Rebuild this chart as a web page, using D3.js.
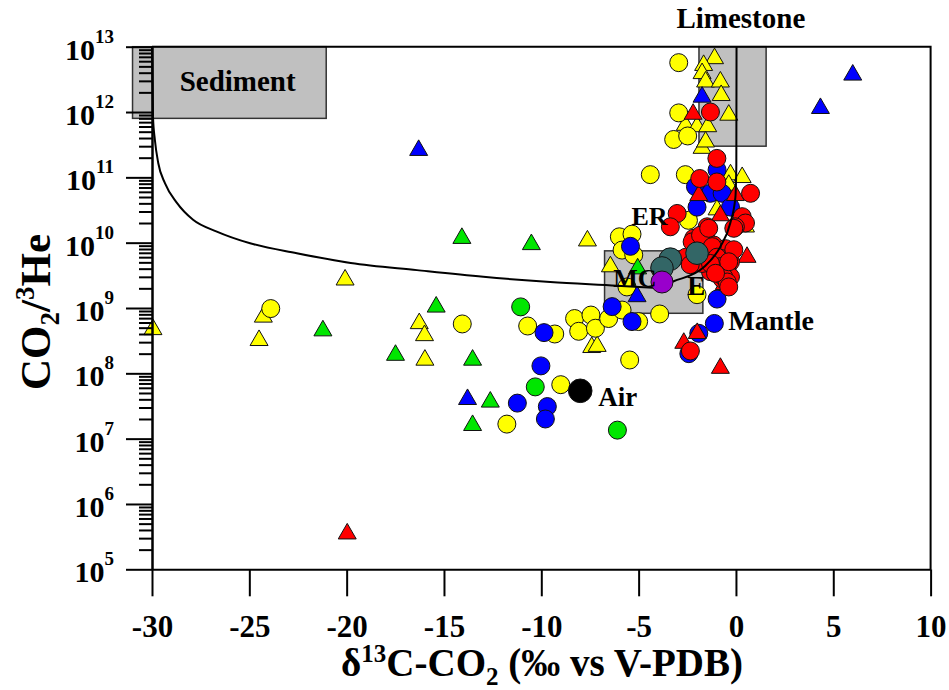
<!DOCTYPE html>
<html>
<head>
<meta charset="utf-8">
<script src="https://cdn.jsdelivr.net/npm/d3@7"></script>
<style>
  body { margin: 0; background: #fff; }
  text { font-family: "Liberation Serif", "Times New Roman", serif; font-weight: bold; fill: #000; }
</style>
</head>
<body>
<svg id="chart" width="949" height="690"></svg>
<script>
// ---- data: [d13C, CO2/3He] ----
var yellowTriangles = [
  [-29.95, 4.7e8], [-24.28, 7.3e8], [-24.5, 3.2e8], [-20.08, 2.7e9], [-16.27, 5.8e8],
  [-16.0, 3.8e8], [-15.98, 1.6e8], [-7.63, 1.07e10], [-7.41, 2.5e8], [-7.13, 2.6e8],
  [-6.45, 4.3e9], [-1.1, 6.6e12], [-1.66, 5.2e12], [-1.74, 3.9e12], [-1.56, 2.9e12],
  [-0.8, 2.9e12], [-0.76, 1.8e12], [-0.37, 9e11], [-2.6, 6.3e11], [-2.0, 6e11],
  [-1.45, 6e11], [-1.74, 2.8e11], [-1.56, 3.5e11], [-0.28, 1.1e11], [0.32, 1e11],
  [-0.37, 7.6e10], [0.49, 1.75e10], [-0.97, 3.2e10]
];
var yellowCircles = [
  [-23.9, 9.8e8], [-14.06, 5.7e8], [-10.7, 5.3e8], [-9.31, 4e8], [-8.29, 6.9e8],
  [-7.45, 7.8e8], [-8.08, 4.4e8], [-7.22, 4.9e8], [-6.54, 6.9e8], [-5.85, 9.3e8],
  [-9.0, 6.7e7], [-11.77, 1.67e7], [-5.46, 1.6e8], [-5.0, 6.2e8], [-3.92, 8.1e8],
  [-2.0, 1.6e9], [-5.6, 2.1e9], [-5.99, 1.23e10], [-5.34, 1.35e10], [-5.85, 7.7e9],
  [-5.25, 6.5e9], [-4.4, 1.1e11], [-2.6, 1.1e11], [-2.94, 5.7e12], [-2.94, 9.7e11],
  [-3.2, 3.8e11], [-2.48, 4.3e11], [-2.44, 2.2e10]
];
var greenTriangles = [
  [-14.08, 1.17e10], [-10.51, 9.4e9], [-15.4, 1.04e9], [-21.22, 4.5e8], [-17.49, 1.9e8],
  [-13.53, 1.6e8], [-12.62, 3.65e7], [-13.53, 1.6e7], [-5.05, 4e9]
];
var greenCircles = [[-11.06, 1.04e9], [-10.31, 6.2e7], [-6.09, 1.35e7]];
var blueTriangles = [
  [-16.3, 2.6e11], [-13.79, 4e7], [-5.08, 1.5e9], [-1.74, 1.7e12], [4.34, 1.14e12], [6.0, 3.7e12]
];
var blueCircles = [
  [-9.86, 4.2e8], [-10.02, 1.3e8], [-11.23, 3.5e7], [-9.69, 3.1e7], [-9.79, 2e7],
  [-6.36, 1.05e9], [-5.34, 6.2e8], [-5.42, 8.8e9], [-0.97, 1.37e9], [-1.11, 5.8e8],
  [-1.91, 4.1e8], [-2.42, 2e8], [-0.97, 1.3e11], [-2.08, 7.2e10], [-1.31, 5.7e10],
  [-0.71, 5.7e10], [-2.0, 3.5e10], [-0.28, 3.5e10]
];
var redTriangles = [
  [-19.97, 3.5e5], [-2.2, 9.3e11], [-1.91, 5.3e10], [-0.03, 5.3e10], [-0.8, 2.6e10],
  [0.57, 6e9], [-0.3, 6.5e9], [-1.99, 4.1e8], [-2.68, 2.9e8], [-0.8, 1.2e8], [-0.6, 2.3e9]
];
var redCircles = [
  [-1.31, 1e12], [-0.98, 1.95e11], [-1.86, 9.6e10], [-0.98, 8.5e10], [0.75, 5.7e10],
  [-3.02, 2.8e10], [-3.37, 1.75e10], [0.32, 2.5e10], [0.49, 2e10], [-0.03, 1.75e10],
  [-1.48, 1.75e10], [-2.17, 1.17e10], [-1.56, 1.2e10], [-1.14, 9.2e9], [-0.54, 8.1e9],
  [-0.71, 5.7e9], [-0.28, 5.1e9], [-0.98, 4.3e9], [-0.46, 3.8e9], [-1.31, 3.6e9],
  [-0.71, 2.8e9], [-0.28, 3e9], [-2.57, 6e9], [-1.74, 4.8e9], [-2.34, 2.2e8],
  [-2.25, 1.03e10], [-1.82, 1.3e10], [-1.4, 1.66e10], [-1.22, 8.7e9], [-0.97, 6e9],
  [-0.8, 4.3e9], [-0.63, 3e9], [-0.45, 2.5e9], [-0.11, 7.8e9], [-0.37, 5.1e9],
  [-1.31, 4.8e9], [-1.05, 3.4e9], [-0.37, 2.1e9], [-0.11, 1.66e10], [-2.35, 4.6e9]
];
var endMembers = [[-3.37, 5.6e9], [-3.8, 4.1e9], [-2.0, 6.9e9]];
var purplePoint = [[-3.8, 2.5e9]];
var airPoint = [[-8.0, 5.4e7]];

// mixing curves
var sedimentCurve = [
  [-30, 1e13], [-29.95, 8.5e11], [-29.85, 3.7e11], [-29.68, 1.66e11], [-29.33, 8.1e10],
  [-28.73, 4.1e10], [-27.89, 2.24e10], [-26.67, 1.48e10], [-24.96, 9.8e9], [-22.56, 6.9e9],
  [-19.79, 4.9e9], [-16.39, 3.8e9], [-12.98, 3.0e9], [-9.54, 2.5e9], [-6.11, 2.2e9], [-3.8, 2.0e9]
];
var limestoneCurve = [
  [-3.8, 2.2e9], [-3.2, 2.57e9], [-1.66, 4.2e9], [-0.8, 8.7e9], [-0.29, 2.0e10],
  [-0.03, 4.9e10], [0.02, 1.55e11], [0.03, 1e13]
];

// end-member boxes
var boxes = [
  {name: 'sediment', x: [-31, -21.05], y: [8e11, 1e13]},
  {name: 'limestone', x: [-1.9, 1.55], y: [3e11, 1e13]},
  {name: 'morb', x: [-6.75, -1.7], y: [8.3e8, 7.5e9]}
];

// text labels [text, x, y, anchor, size]
var labels = [
  ['Sediment', -25.6, 2.1e12, 'middle', 29],
  ['Limestone', 0.25, 1.9e13, 'middle', 29],
  ['ER', -5.37, 1.85e10, 'start', 26],
  ['MC', -6.3, 2.1e9, 'start', 26],
  ['E', -2.5, 1.58e9, 'start', 27],
  ['Mantle', -0.39, 4.6e8, 'start', 28],
  ['Air', -7.07, 3.15e7, 'start', 27]
];

var xTicks = [-30, -25, -20, -15, -10, -5, 0, 5, 10];
var yPowers = [5, 6, 7, 8, 9, 10, 11, 12, 13];

// ---- drawing ----
var svg = d3.select('#chart');
var xScale = d3.scaleLinear().domain([-30, 10]).range([152, 930.6]);
var yScale = d3.scaleLog().domain([1e5, 1e13]).range([569.3, 46.7]);

// boxes
svg.append('g').selectAll('rect').data(boxes).enter().append('rect')
  .attr('x', function (d) { return xScale(d.x[0]); })
  .attr('y', function (d) { return yScale(d.y[1]); })
  .attr('width', function (d) { return xScale(d.x[1]) - xScale(d.x[0]); })
  .attr('height', function (d) { return yScale(d.y[0]) - yScale(d.y[1]); })
  .attr('fill', '#c0c0c0').attr('stroke', '#333').attr('stroke-width', 1.5);

// draw one series of markers
function drawSeries(data, shape, color, r) {
  var g = svg.append('g');
  if (shape == 'circle') {
    g.selectAll('circle').data(data).enter().append('circle')
      .attr('cx', function (d) { return xScale(d[0]); })
      .attr('cy', function (d) { return yScale(d[1]); })
      .attr('r', r).attr('fill', color).attr('stroke', '#111').attr('stroke-width', 1);
  } else {
    var sym = d3.symbol().type(d3.symbolTriangle).size(r);
    g.selectAll('path').data(data).enter().append('path')
      .attr('d', sym)
      .attr('transform', function (d) { return 'translate(' + xScale(d[0]) + ',' + yScale(d[1]) + ')'; })
      .attr('fill', color).attr('stroke', '#111').attr('stroke-width', 1);
  }
}

drawSeries(yellowTriangles, 'tri', '#ffff00', 140);
drawSeries(yellowCircles, 'circle', '#ffff00', 9);
drawSeries(greenTriangles, 'tri', '#00e600', 140);
drawSeries(greenCircles, 'circle', '#00e600', 9);
drawSeries(blueTriangles, 'tri', '#0000ff', 140);
drawSeries(blueCircles, 'circle', '#0000ff', 9);
drawSeries(redTriangles, 'tri', '#ff0000', 140);
drawSeries(redCircles, 'circle', '#ff0000', 9);

// mixing curves
var line = d3.line()
  .x(function (d) { return xScale(d[0]); })
  .y(function (d) { return yScale(d[1]); })
  .curve(d3.curveMonotoneX);
[sedimentCurve, limestoneCurve].forEach(function (c) {
  svg.append('path').datum(c).attr('d', line)
    .attr('fill', 'none').attr('stroke', '#000').attr('stroke-width', 2);
});

drawSeries(endMembers, 'circle', '#336666', 11.3);
drawSeries(purplePoint, 'circle', '#9900cc', 11);
drawSeries(airPoint, 'circle', '#000', 11.8);

// frame (top + right)
svg.append('path')
  .attr('d', 'M' + xScale(-30) + ',' + yScale(1e13) + 'H' + xScale(10) + 'V' + yScale(1e5))
  .attr('fill', 'none').attr('stroke', '#000').attr('stroke-width', 2);

// y axis, majors + minors
var minors = [];
yPowers.slice(0, -1).forEach(function (p) {
  for (var k = 2; k < 10; k++) minors.push(k * Math.pow(10, p));
});
var yAxisG = svg.append('g').attr('transform', 'translate(' + xScale(-30) + ',0)');
yAxisG.append('g').call(d3.axisLeft(yScale).tickValues(minors).tickSize(13).tickSizeOuter(0).tickFormat(''));
yAxisG.append('g').call(d3.axisLeft(yScale).tickValues(yPowers.map(function (p) { return Math.pow(10, p); }))
  .tickSize(26).tickSizeOuter(0).tickFormat(''));
yAxisG.selectAll('path, line').attr('stroke', '#000').attr('stroke-width', 2);

// y labels 10^n
var yLab = svg.append('g').selectAll('text').data(yPowers).enter().append('text')
  .attr('x', 114).attr('y', function (p) { return yScale(Math.pow(10, p)) + 13; })
  .attr('text-anchor', 'end').style('font-size', '30px');
yLab.append('tspan').text('10');
yLab.append('tspan').attr('dy', -17).style('font-size', '19px').text(function (p) { return p; });

// x axis
var xAxisG = svg.append('g').attr('transform', 'translate(0,' + yScale(1e5) + ')')
  .call(d3.axisBottom(xScale).tickValues(xTicks).tickSize(27).tickSizeOuter(0).tickPadding(19)
    .tickFormat(function (d) { return String(d); }));
xAxisG.selectAll('path, line').attr('stroke', '#000').attr('stroke-width', 2);
xAxisG.selectAll('text').style('font-size', '31px')
  .style('font-family', '"Liberation Serif", serif').style('font-weight', 'bold').attr('fill', '#000');

// annotations
svg.append('g').selectAll('text').data(labels).enter().append('text')
  .attr('x', function (d) { return xScale(d[1]); })
  .attr('y', function (d) { return yScale(d[2]); })
  .attr('text-anchor', function (d) { return d[3]; })
  .style('font-size', function (d) { return d[4] + 'px'; })
  .text(function (d) { return d[0]; });

// axis titles
var xt = svg.append('text').attr('x', 542).attr('y', 676).attr('text-anchor', 'middle').style('font-size', '39px');
xt.append('tspan').text('\u03b4');
xt.append('tspan').attr('dy', -14).style('font-size', '25px').text('13');
xt.append('tspan').attr('dy', 14).text('C-CO');
xt.append('tspan').attr('dy', 9).style('font-size', '25px').text('2');
xt.append('tspan').attr('dy', -9).text(' (\u2030 vs V-PDB)');

var yt = svg.append('text').attr('transform', 'translate(50,312) rotate(-90)')
  .attr('text-anchor', 'middle').style('font-size', '43px');
yt.append('tspan').text('CO');
yt.append('tspan').attr('dy', 9).style('font-size', '27px').text('2');
yt.append('tspan').attr('dy', -9).text('/');
yt.append('tspan').attr('dy', -16).style('font-size', '27px').text('3');
yt.append('tspan').attr('dy', 16).text('He');
</script>
</body>
</html>
